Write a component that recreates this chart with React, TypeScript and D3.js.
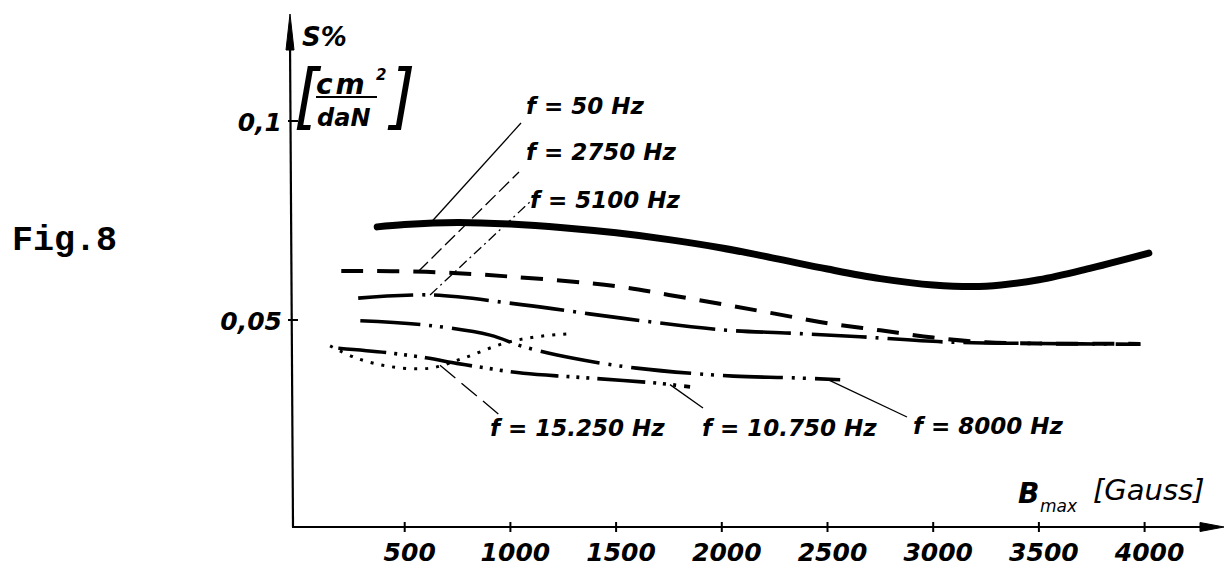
import React, { Component } from 'react';
import * as d3 from 'd3';

// axis ticks
const xTicks = [500, 1000, 1500, 2000, 2500, 3000, 3500, 4000];
const yTicks = [0.05, 0.1];
const yTickLabels = ['0,05', '0,1'];

// S% vs Bmax, one pair of arrays per frequency
const b50 = [370, 500, 750, 1000, 1250, 1500, 1750, 2000, 2250, 2500, 2750, 3000, 3250, 3500, 3750, 4020];
const s50 = [0.0734, 0.074, 0.0745, 0.0741, 0.0732, 0.0719, 0.0702, 0.0681, 0.0655, 0.0628, 0.0604, 0.0588, 0.0585, 0.0601, 0.0631, 0.0668];

const b2750 = [200, 600, 1000, 1500, 1750, 2000, 2250, 2500, 2750, 3000, 3250, 3500, 3980];
const s2750 = [0.0623, 0.0621, 0.0609, 0.0585, 0.0563, 0.054, 0.0516, 0.0492, 0.0474, 0.0456, 0.0444, 0.0441, 0.044];

const b5100 = [280, 620, 1061, 1534, 2008, 2323, 2654, 3048, 3500, 3980];
const s5100 = [0.0555, 0.0563, 0.0538, 0.0504, 0.0475, 0.0467, 0.0458, 0.0445, 0.0441, 0.0439];

const b8000 = [290, 604, 904, 1061, 1298, 1597, 2055, 2323, 2560];
const s8000 = [0.0498, 0.0487, 0.0462, 0.0433, 0.0404, 0.0379, 0.0359, 0.0355, 0.035];

const b10750 = [186, 415, 600, 746, 840, 1061, 1298, 1534, 1700, 1850];
const s10750 = [0.0429, 0.0418, 0.0405, 0.0391, 0.0383, 0.0366, 0.0357, 0.0348, 0.0341, 0.0332];

const b15250 = [147, 273, 430, 620, 777, 967, 1125, 1298];
const s15250 = [0.0435, 0.0404, 0.0383, 0.0379, 0.0404, 0.0441, 0.0458, 0.0466];

const seriesNames = ['50', '2750', '5100', '8000', '10750', '15250'];
const seriesLabels = ['f = 50 Hz', 'f = 2750 Hz', 'f = 5100 Hz', 'f = 8000 Hz', 'f = 10.750 Hz', 'f = 15.250 Hz'];

const W = 1231;
const H = 566;
const hand = '"DejaVu Sans", Verdana, sans-serif';

// line styles per curve
const styles = {
  '50': { w: 7, dash: null, cap: 'round' },
  '2750': { w: 4, dash: '22 14', cap: 'butt' },
  '5100': { w: 3.6, dash: '55 9 3 9', cap: 'butt' },
  '8000': { w: 3.6, dash: '60 9 3 8 3 9', cap: 'butt' },
  '10750': { w: 3.6, dash: '48 8 3 7 3 7 3 8', cap: 'butt' },
  '15250': { w: 3, dash: '3 8', cap: 'butt' },
};

// where each label sits (px) and where its leader touches the curve (B value)
const labelLayout = {
  '50': { x: 526, y: 114, fromB: 620, to: [521, 123], ldash: null },
  '2750': { x: 526, y: 160, fromB: 563, to: [519, 172], ldash: '14 5' },
  '5100': { x: 530, y: 208, fromB: 620, to: [532, 200], ldash: '10 4 2 4' },
  '8000': { x: 913, y: 434, fromB: 2497, to: [907, 417], ldash: null },
  '10750': { x: 702, y: 436, fromB: 1755, to: [703, 408], ldash: null },
  '15250': { x: 490, y: 436, fromB: 667, to: [502, 417], ldash: '20 8' },
};

export default class App extends Component {
  componentDidMount() {
    this.createChart();
  }

  componentDidUpdate() {
    d3.select(this.svg).selectAll('*').remove();
    this.createChart();
  }

  createChart = () => {
    const data = {
      '50': [b50, s50],
      '2750': [b2750, s2750],
      '5100': [b5100, s5100],
      '8000': [b8000, s8000],
      '10750': [b10750, s10750],
      '15250': [b15250, s15250],
    };

    const xScale = d3.scaleLinear().domain([0, 4000]).range([299, 1144.6]);
    const yScale = d3.scaleLinear().domain([0.05, 0.1]).range([320, 121]);
    const axisX = 293;
    const axisY = 527;

    const svg = d3.select(this.svg).attr('width', W).attr('height', H);

    svg.append('rect').attr('width', W).attr('height', H).attr('fill', '#fff');

    // Fig.8
    svg.append('text')
      .attr('x', 12).attr('y', 250)
      .attr('font-family', '"Liberation Mono", "DejaVu Sans Mono", monospace')
      .attr('font-weight', 'bold').attr('font-size', 35)
      .text('Fig.8');

    //////////////// axes ////////////////
    const ax = svg.append('g').attr('stroke', '#000').attr('fill', 'none');
    ax.append('line').attr('x1', axisX).attr('y1', axisY).attr('x2', axisX - 3).attr('y2', 40).attr('stroke-width', 2.2);
    ax.append('path').attr('d', `M${axisX - 7},50 L${axisX - 3},14 L${axisX + 1},50 Z`).attr('fill', '#000');
    ax.append('line').attr('x1', axisX - 1).attr('y1', axisY).attr('x2', 1205).attr('y2', axisY).attr('stroke-width', 2.2);
    ax.append('path').attr('d', `M1200,522.5 L1224,527 L1200,531.5 Z`).attr('fill', '#000');

    ax.selectAll('.xt').data(xTicks).join('line')
      .attr('x1', (d) => xScale(d)).attr('x2', (d) => xScale(d))
      .attr('y1', axisY - 5).attr('y2', axisY + 5)
      .attr('stroke-width', 2);
    ax.selectAll('.yt').data(yTicks).join('line')
      .attr('x1', axisX - 5).attr('x2', axisX + 5)
      .attr('y1', (d) => yScale(d)).attr('y2', (d) => yScale(d))
      .attr('stroke-width', 2);

    svg.append('g').selectAll('text').data(xTicks).join('text')
      .attr('x', (d) => xScale(d) + 5).attr('y', 561)
      .attr('text-anchor', 'middle')
      .attr('font-family', hand).attr('font-style', 'italic').attr('font-weight', 'bold')
      .attr('font-size', 25)
      .text((d) => d);

    svg.append('g').selectAll('text').data(yTicks).join('text')
      .attr('x', 282).attr('y', (d) => yScale(d) + 10)
      .attr('text-anchor', 'end')
      .attr('font-family', hand).attr('font-style', 'italic').attr('font-weight', 'bold')
      .attr('font-size', 25)
      .text((d, i) => yTickLabels[i]);

    // axis titles
    const t = svg.append('g').attr('font-family', hand).attr('font-style', 'italic').attr('font-weight', 'bold');
    t.append('text').attr('x', 302).attr('y', 46).attr('font-size', 26).text('S%');
    const br = '"Liberation Sans Narrow", "DejaVu Sans Condensed", sans-serif';
    t.append('text').attr('x', 294).attr('y', 120).attr('font-size', 72).attr('font-weight', 'normal').attr('font-family', br).text('[');
    t.append('text').attr('x', 316).attr('y', 94).attr('font-size', 28).attr('letter-spacing', 3).text('cm');
    t.append('line').attr('x1', 316).attr('x2', 377).attr('y1', 97).attr('y2', 97).attr('stroke', '#000').attr('stroke-width', 2);
    t.append('text').attr('x', 376).attr('y', 80).attr('font-size', 15).text('2');
    t.append('text').attr('x', 317).attr('y', 126).attr('font-size', 24).text('daN');
    t.append('text').attr('x', 390).attr('y', 120).attr('font-size', 72).attr('font-weight', 'normal').attr('font-family', br).text(']');

    t.append('text').attr('x', 1018).attr('y', 503).attr('font-size', 28).text('B');
    t.append('text').attr('x', 1040).attr('y', 512).attr('font-size', 17).attr('font-weight', 'normal').text('max');
    t.append('text').attr('x', 1093).attr('y', 500).attr('font-size', 29).attr('font-weight', 'normal').text('[Gauss]');

    //////////////// curves ////////////////
    const line = d3.line()
      .x((d) => xScale(d[0]))
      .y((d) => yScale(d[1]))
      .curve(d3.curveCatmullRom.alpha(0.5));

    seriesNames.forEach((name) => {
      const [b, s] = data[name];
      const st = styles[name];
      svg.append('path')
        .datum(b.map((v, i) => [v, s[i]]))
        .attr('d', line)
        .attr('fill', 'none')
        .attr('stroke', '#000')
        .attr('stroke-width', st.w)
        .attr('stroke-linecap', st.cap)
        .attr('stroke-dasharray', st.dash);
    });

    //////////////// leaders + labels ////////////////
    seriesNames.forEach((name, i) => {
      const [b, s] = data[name];
      const lay = labelLayout[name];
      const onCurve = d3.scaleLinear().domain(b).range(s).clamp(true);
      svg.append('line')
        .attr('x1', xScale(lay.fromB)).attr('y1', yScale(onCurve(lay.fromB)))
        .attr('x2', lay.to[0]).attr('y2', lay.to[1])
        .attr('stroke', '#000').attr('stroke-width', 1.3)
        .attr('stroke-dasharray', lay.ldash);
      svg.append('text')
        .attr('x', lay.x).attr('y', lay.y)
        .attr('font-family', hand).attr('font-style', 'italic').attr('font-weight', 'bold')
        .attr('font-size', 23)
        .text(seriesLabels[i]);
    });

    return true;
  };

  render() {
    return (
      <div className="chart">
        <svg ref={(svg) => (this.svg = svg)} style={{ position: 'absolute', left: 0, top: 0, display: 'block' }} />
      </div>
    );
  }
}
